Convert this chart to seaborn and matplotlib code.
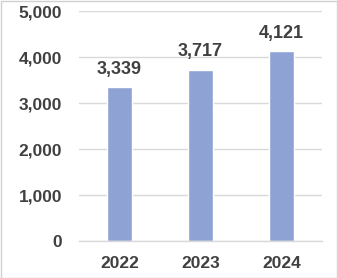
import matplotlib
matplotlib.use("Agg")
import matplotlib.pyplot as plt
import seaborn as sns
import pandas as pd

years = ["2022", "2023", "2024"]
values = [3339, 3717, 4121]
yticks = [0, 1000, 2000, 3000, 4000, 5000]

df = pd.DataFrame({"year": years, "value": values})

sns.set_theme(style="white")
plt.rcParams["font.family"] = ["Liberation Sans", "DejaVu Sans"]

text_color = "#404040"
fig = plt.figure(figsize=(3.37, 2.78), dpi=100)
ax = fig.add_axes([79/337, 1-241/278, 243/337, 230/278])

sns.barplot(data=df, x="year", y="value", color="#8FA2D4", saturation=1,
            width=0.31, ax=ax)

ax.set_ylim(0, 5000)
ax.set_yticks(yticks)
ax.set_yticklabels([f"{v:,}" for v in yticks])
ax.set_xlim(-0.5, 2.5)
ax.set_xlabel("")
ax.set_ylabel("")
ax.yaxis.grid(True, color="#d9d9d9", linewidth=1)
ax.set_axisbelow(True)
for s in ["top", "right", "left"]:
    ax.spines[s].set_visible(False)
ax.spines["bottom"].set_color("#d9d9d9")
ax.spines["bottom"].set_linewidth(1)
ax.tick_params(axis="both", length=0, labelsize=12.5, labelcolor=text_color)
ax.tick_params(axis="y", pad=12)
ax.tick_params(axis="x", pad=11)
for lab in ax.get_xticklabels() + ax.get_yticklabels():
    lab.set_fontweight("bold")

for c in ax.containers:
    ax.bar_label(c, labels=[f"{v:,}" for v in values], padding=7,
                 fontsize=13, fontweight="bold", color=text_color)

fig.patches.append(plt.Rectangle((0.5/337, 0.5/278), 336/337, 277/278,
                                 transform=fig.transFigure, fill=False,
                                 edgecolor="#d0d0d0", linewidth=1))
fig.savefig("out.png", dpi=100)
